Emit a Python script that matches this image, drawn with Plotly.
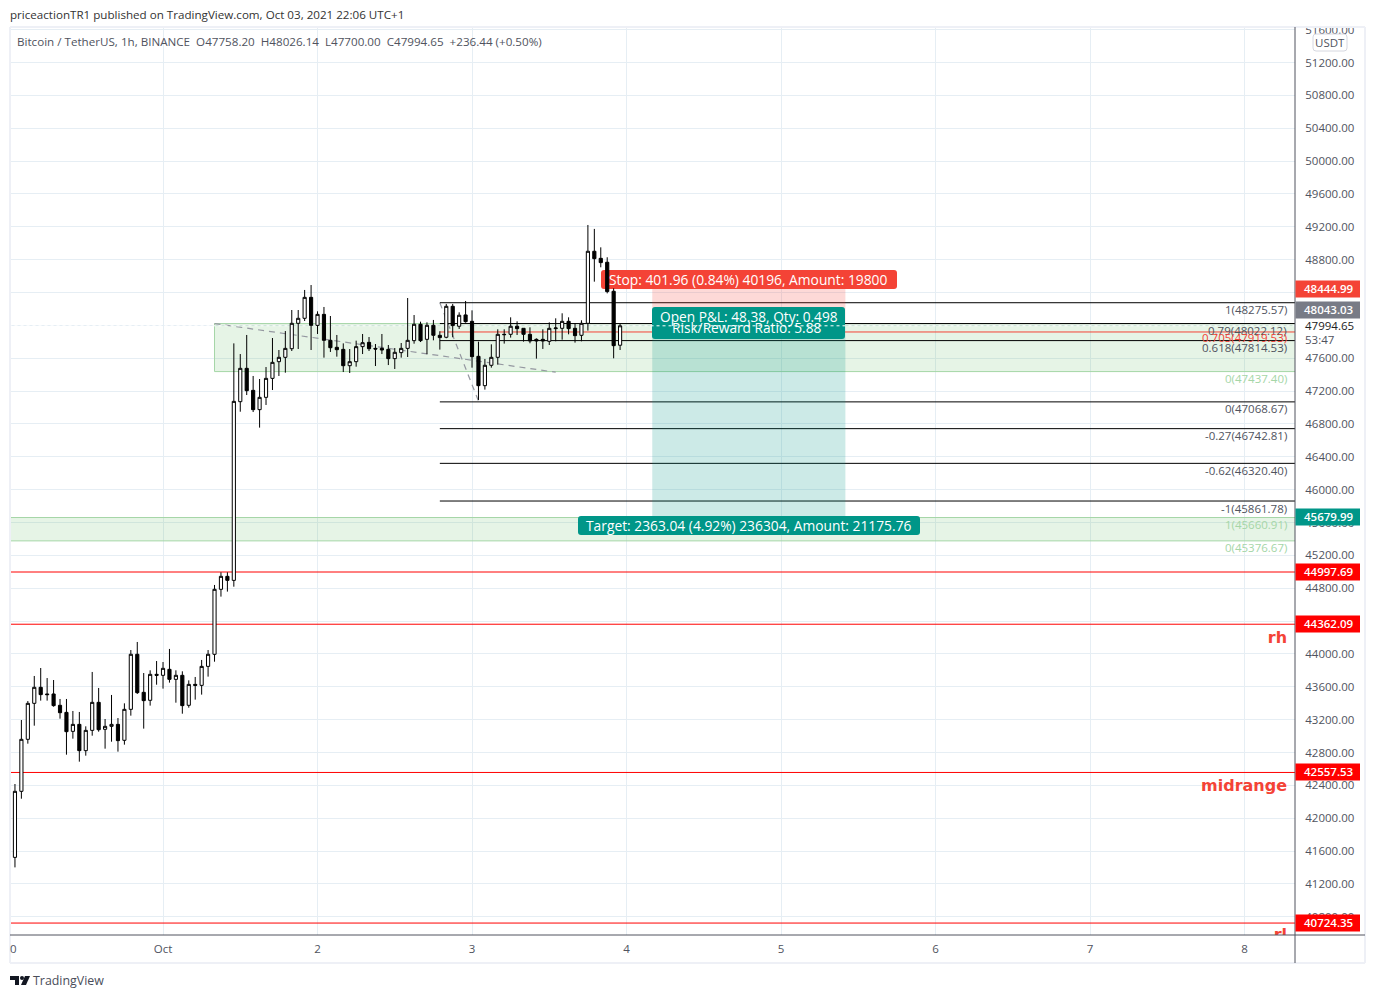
import plotly.graph_objects as go

# hours counted from Oct 1 00:00 (UTC+1)
hours = list(range(-24, 72))
opens = [41350, 41524, 42328, 42961, 43399, 43594, 43513, 43513, 43375, 43289, 43058, 43143,
         42823, 43070, 43411, 43083, 43119, 43143, 42949, 43326, 43996, 43533, 43436, 43752,
         43740, 43813, 43691, 43740, 43375, 43630, 43618, 43849, 43996, 44787, 44945, 44896,
         47071, 47477, 47209, 46974, 47124, 47355, 47558, 47611, 47716, 48025, 48086, 48341,
         48000, 48134, 47818, 47733, 47708, 47509, 47558, 47741, 47793, 47720, 47720, 47708,
         47595, 47668, 47720, 47814, 48013, 47830, 48001, 47879, 47855, 48232, 47989, 48127,
         48049, 47623, 47266, 47514, 47611, 47891, 47891, 47989, 47964, 47891, 47830, 47830,
         47806, 47960, 47964, 48049, 47964, 47879, 48025, 48902, 48816, 48768, 48415, 47758.2]
highs = [41540, 42417, 43196, 43427, 43732, 43829, 43707, 43683, 43452, 43452, 43306, 43294,
         43119, 43781, 43586, 43208, 43501, 43220, 43399, 44048, 44146, 43768, 43801, 43914,
         43902, 44061, 43801, 43789, 43679, 43720, 43927, 44048, 44840, 44994, 44994, 47781,
         47651, 47883, 47384, 47347, 47493, 47846, 47700, 47931, 48187, 48187, 48431, 48491,
         48171, 48224, 48114, 47883, 47781, 47712, 47814, 47895, 47858, 47773, 47895, 47761,
         47724, 47785, 48333, 48126, 48045, 48037, 48066, 47928, 48261, 48261, 48159, 48297,
         48183, 47802, 47591, 47769, 47952, 47952, 48098, 48049, 47964, 47976, 47842, 47952,
         48037, 48086, 48147, 48098, 48025, 48062, 49222, 49174, 48950, 48829, 48451, 48026.14]
lows = [41350, 41402, 42238, 42908, 43127, 43432, 43432, 43358, 43212, 42774, 42969, 42689,
        42762, 43005, 43054, 42847, 42932, 42811, 42896, 43249, 43513, 43091, 43371, 43626,
        43578, 43651, 43407, 43273, 43346, 43444, 43505, 43724, 43906, 44698, 44759, 44819,
        46949, 47152, 46945, 46755, 47031, 47213, 47384, 47424, 47688, 47712, 48053, 47700,
        47895, 47607, 47676, 47619, 47432, 47420, 47497, 47651, 47688, 47505, 47651, 47517,
        47469, 47607, 47615, 47777, 47797, 47648, 47818, 47705, 47843, 47855, 47956, 48033,
        47485, 47092, 47218, 47485, 47522, 47778, 47851, 47883, 47802, 47782, 47595, 47713,
        47761, 47806, 47826, 47891, 47790, 47806, 47936, 48532, 48707, 48390, 47599, 47700]
closes = [41524, 42328, 42961, 43399, 43594, 43505, 43505, 43371, 43285, 43054, 43143, 42823,
          43070, 43411, 43078, 43119, 43143, 42945, 43326, 43996, 43529, 43432, 43752, 43740,
          43825, 43691, 43740, 43371, 43630, 43618, 43849, 43996, 44787, 44945, 44896, 47075,
          47477, 47205, 46974, 47124, 47355, 47550, 47611, 47720, 48025, 48086, 48341, 48000,
          48134, 47818, 47728, 47704, 47509, 47558, 47741, 47789, 47716, 47712, 47700, 47595,
          47672, 47720, 47818, 48013, 47814, 48001, 47879, 47851, 48232, 47997, 48123, 48045,
          47619, 47266, 47514, 47611, 47891, 47887, 47989, 47960, 47891, 47810, 47810, 47810,
          47964, 47968, 48049, 47960, 47875, 48025, 48902, 48812, 48764, 48411, 47753, 47994.65]

price_ticks = [40800, 41200, 41600, 42000, 42400, 42800, 43200, 43600, 44000, 44400, 44800,
               45200, 45600, 46000, 46400, 46800, 47200, 47600, 48000, 48400, 48800, 49200,
               49600, 50000, 50400, 50800, 51200, 51600]
day_ticks = [0, 24, 48, 72, 96, 120, 144, 168]
day_labels = ["Oct", "2", "3", "4", "5", "6", "7", "8"]

red_levels = [44997.69, 44362.09, 42557.53, 40724.35]
fib_prices = [48275.57, 48022.12, 47814.53, 47068.67, 46742.81, 46320.40, 45861.78]
fib_texts = ["1(48275.57)", "0.79(48022.12)", "0.618(47814.53)", "0(47068.67)",
             "-0.27(46742.81)", "-0.62(46320.40)", "-1(45861.78)"]
fib_red_price = 47919.53
last_price = 47994.65
stop_price = 48444.99
entry_price = 48043.03
target_price = 45679.99
zone_upper = [48022.12, 47437.40]
zone_lower = [45660.91, 45376.67]
note_texts = ["rh", "midrange", "rl"]
note_prices = [44183, 42381, 40567]

GRID = "#e6eef4"
FRAME = "#eef0f6"
AXIS = "#50535e"
TEXT = "#50535e"
RED = "#f44336"
GREEN = "#a5d6a7"
TEAL = "#009688"
FONT = "Open Sans"

L, R, T, B = 10, 1295, 27, 935
W, H = 1375, 998
X_RANGE = [-23.77, 175.84]
Y_RANGE = [40579, 51632]


# picture pixels to paper fractions, for the page furniture only
def px(v):
    return (v - L) / (R - L)


def py(v):
    return (B - v) / (B - T)


# picture pixels to axis values, so a label box can sit between grid and candles
def dx(v):
    return X_RANGE[0] + px(v) * (X_RANGE[1] - X_RANGE[0])


def dy(v):
    return Y_RANGE[0] + py(v) * (Y_RANGE[1] - Y_RANGE[0])


def round_box(x0, y0, x1, y1, r, color):
    path = (f"M {dx(x0 + r)} {dy(y0)} L {dx(x1 - r)} {dy(y0)} Q {dx(x1)} {dy(y0)} {dx(x1)} {dy(y0 + r)} "
            f"L {dx(x1)} {dy(y1 - r)} Q {dx(x1)} {dy(y1)} {dx(x1 - r)} {dy(y1)} "
            f"L {dx(x0 + r)} {dy(y1)} Q {dx(x0)} {dy(y1)} {dx(x0)} {dy(y1 - r)} "
            f"L {dx(x0)} {dy(y0 + r)} Q {dx(x0)} {dy(y0)} {dx(x0 + r)} {dy(y0)} Z")
    return dict(type="path", path=path, xref="x", yref="y", fillcolor=color, line_width=0, layer="between")


def paper_round_box(x0, y0, x1, y1, r, color, edge):
    path = (f"M {px(x0 + r)} {py(y0)} L {px(x1 - r)} {py(y0)} Q {px(x1)} {py(y0)} {px(x1)} {py(y0 + r)} "
            f"L {px(x1)} {py(y1 - r)} Q {px(x1)} {py(y1)} {px(x1 - r)} {py(y1)} "
            f"L {px(x0 + r)} {py(y1)} Q {px(x0)} {py(y1)} {px(x0)} {py(y1 - r)} "
            f"L {px(x0)} {py(y0 + r)} Q {px(x0)} {py(y0)} {px(x0 + r)} {py(y0)} Z")
    return dict(type="path", path=path, xref="paper", yref="paper", fillcolor=color,
                line=dict(color=edge, width=1), layer="above")


def paper_line(x0, y0, x1, y1, color, width=1):
    return dict(type="line", xref="paper", yref="paper", x0=px(x0), y0=py(y0), x1=px(x1), y1=py(y1),
                line=dict(color=color, width=width), layer="above")


def paper_rect(x0, y0, x1, y1, color):
    return dict(type="rect", xref="paper", yref="paper", x0=px(x0), y0=py(y0), x1=px(x1), y1=py(y1),
                fillcolor=color, line_width=0, layer="above")


def level_line(price, x0, color, dash="solid"):
    return dict(type="line", xref="x", yref="y", x0=x0, x1=176, y0=price, y1=price,
                line=dict(color=color, width=1, dash=dash), layer="between")


def text_at(x, y, text, size=11.5, color=TEXT, anchor="left", weight=400):
    # annotations carry a 2px pad around the text
    if anchor == "left":
        x -= 2
    elif anchor == "right":
        x += 2
    return dict(xref="paper", yref="paper", x=px(x), y=py(y), text=text, showarrow=False,
                xanchor=anchor, yanchor="middle", font=dict(family=FONT, size=size, color=color, weight=weight))


def level_text(price, text, color, shift=-7):
    return dict(xref="paper", yref="y", x=px(1289), y=price, yshift=shift, text=text, showarrow=False,
                xanchor="right", yanchor="middle", font=dict(family=FONT, size=11.5, color=color))


fig = go.Figure()
fig.add_trace(go.Candlestick(
    x=hours, open=opens, high=highs, low=lows, close=closes,
    increasing=dict(fillcolor="#ffffff", line=dict(color="#000000", width=1)),
    decreasing=dict(fillcolor="#000000", line=dict(color="#000000", width=1)),
    whiskerwidth=0, showlegend=False,
))
fig.add_trace(go.Scatter(
    x=[174.6, 174.6, 174.6], y=note_prices, mode="text", text=note_texts,
    textposition="middle left", showlegend=False,
    textfont=dict(family="DejaVu Sans", size=16, color=RED, weight="bold"),
))

shapes = []
# support zones
shapes.append(dict(type="rect", xref="x", yref="y", x0=8, x1=176, y0=zone_upper[1], y1=zone_upper[0],
                   fillcolor="rgba(76,175,80,0.14)", line=dict(color=GREEN, width=1), layer="between"))
shapes.append(dict(type="rect", xref="x", yref="y", x0=-24, x1=176, y0=zone_lower[1], y1=zone_lower[0],
                   fillcolor="rgba(76,175,80,0.14)", line=dict(color=GREEN, width=1), layer="between"))
# dashed fib trend lines
shapes.append(dict(type="line", xref="x", yref="y", x0=8, x1=61, y0=48022, y1=47430,
                   line=dict(color="#9598a1", width=1.2, dash="6px,5px"), layer="between"))
shapes.append(dict(type="line", xref="x", yref="y", x0=43, x1=49, y0=48275, y1=47080,
                   line=dict(color="#9598a1", width=1.2, dash="6px,5px"), layer="between"))
for p in red_levels:
    shapes.append(level_line(p, -24, "#ff0000"))
for p in fib_prices:
    shapes.append(level_line(p, 43, "#000000"))
shapes.append(level_line(fib_red_price, 43, RED))
# long position tool
shapes.append(dict(type="rect", xref="x", yref="y", x0=76, x1=106, y0=entry_price, y1=stop_price,
                   fillcolor="rgba(244,67,54,0.2)", line_width=0, layer="between"))
shapes.append(dict(type="rect", xref="x", yref="y", x0=76, x1=106, y0=target_price, y1=entry_price,
                   fillcolor="rgba(0,150,136,0.2)", line_width=0, layer="between"))
shapes.append(round_box(601, 270, 897, 289, 3, RED))
shapes.append(round_box(652, 307, 845, 339, 3, TEAL))
shapes.append(round_box(578, 516, 920, 535, 3, TEAL))
shapes.append(dict(type="line", xref="x", yref="y", x0=-24, x1=176, y0=last_price, y1=last_price,
                   line=dict(color="#ffffff", width=1, dash="dot"), layer="between"))

# page frame and axis furniture
shapes.append(paper_rect(0, 0, 1375, 27, "#ffffff"))
shapes.append(paper_rect(1295.5, 319, 1364, 347, "#ffffff"))
shapes.append(paper_line(10, 27, 1365, 27, FRAME, 2))
shapes.append(paper_line(10, 963, 1365, 963, FRAME, 2))
shapes.append(paper_line(10, 27, 10, 963, FRAME, 2))
shapes.append(paper_line(1365, 27, 1365, 963, FRAME, 2))
shapes.append(paper_line(10, 935, 1365, 935, AXIS))
shapes.append(paper_line(1295, 27, 1295, 963, AXIS))

# price labels on the axis
axis_tags = [(stop_price, 289, RED), (entry_price, 310, "#787b86"), (target_price, 517, TEAL)]
for p in red_levels:
    axis_tags.append((p, round(62.5 + (51200 - p) * 0.08215), "#ff0000"))
annotations = []
for p, yc, color in axis_tags:
    shapes.append(paper_rect(1295.5, yc - 8.5, 1360, yc + 8.5, color))
    annotations.append(text_at(1329, yc - 0.5, f"{p:.2f}", 11.5, "#ffffff", "center", weight=600))

# USDT tag
shapes.append(paper_round_box(1313, 34, 1347, 51, 3, "#ffffff", "#d6d8e0"))
annotations.append(text_at(1330, 42.5, "USDT", 11.5, TEXT, "center"))

# TradingView mark
shapes.append(dict(type="path", xref="paper", yref="paper", fillcolor="#131722", line_width=0, layer="above",
                   path=(f"M {px(10)} {py(976)} L {px(19)} {py(976)} L {px(19)} {py(985)} L {px(15)} {py(985)} "
                         f"L {px(15)} {py(980)} L {px(10)} {py(980)} Z")))
shapes.append(dict(type="path", xref="paper", yref="paper", fillcolor="#131722", line_width=0, layer="above",
                   path=(f"M {px(25)} {py(976)} L {px(30)} {py(976)} L {px(26)} {py(985)} L {px(21)} {py(985)} Z")))
shapes.append(dict(type="circle", xref="paper", yref="paper", fillcolor="#131722", line_width=0, layer="above",
                   x0=px(20), x1=px(24), y0=py(976), y1=py(980)))

annotations.append(text_at(10, 15, "priceactionTR1 published on TradingView.com, Oct 03, 2021 22:06 UTC+1", 11.62, "#333333"))
annotations.append(text_at(17, 42, "Bitcoin / TetherUS, 1h, BINANCE  O47758.20  H48026.14  L47700.00  C47994.65  +236.44 (+0.50%)", 11.63, TEXT))
annotations.append(text_at(33, 980.5, "TradingView", 12.4, "#4a4e5a"))
annotations.append(text_at(10, 948, "0", 11.5, TEXT))
annotations.append(text_at(1305, 326, "47994.65", 11.5, "#222222"))
annotations.append(text_at(1305, 340, "53:47", 11.5, TEXT))
annotations.append(text_at(749, 279, "Stop: 401.96 (0.84%) 40196, Amount: 19800", 13.8, "#ffffff", "center", weight=500))
annotations.append(text_at(749, 316, "Open P&amp;L: 48.38, Qty: 0.498", 13.7, "#ffffff", "center", weight=500))
annotations.append(text_at(747, 328, "Risk/Reward Ratio: 5.88", 13.7, "#ffffff", "center", weight=500))
annotations.append(text_at(749, 525, "Target: 2363.04 (4.92%) 236304, Amount: 21175.76", 13.8, "#ffffff", "center", weight=500))

for p, t in zip(fib_prices, fib_texts):
    annotations.append(level_text(p, t, TEXT))
annotations.append(level_text(fib_red_price, "0.705(47919.53)", RED, -6))
annotations.append(level_text(zone_upper[1], "0(47437.40)", GREEN))
annotations.append(level_text(zone_lower[0], "1(45660.91)", GREEN))
annotations.append(level_text(zone_lower[1], "0(45376.67)", GREEN))

fig.update_layout(
    width=W, height=H,
    margin=dict(l=L, r=W - R, t=T, b=H - B),
    paper_bgcolor="#ffffff", plot_bgcolor="#ffffff",
    showlegend=False,
    font=dict(family=FONT, size=11.5, color=TEXT),
    shapes=shapes, annotations=annotations,
    xaxis=dict(range=X_RANGE, tickvals=day_ticks, ticktext=day_labels, showgrid=True,
               gridcolor=GRID, gridwidth=1, zeroline=False, rangeslider_visible=False,
               ticks="outside", ticklen=3, tickcolor="rgba(0,0,0,0)", showline=False,
               tickfont=dict(family=FONT, size=11.5, color=TEXT)),
    yaxis=dict(range=Y_RANGE, side="right", tickvals=price_ticks, tickformat=".2f", showgrid=True,
               gridcolor=GRID, gridwidth=1, zeroline=False, ticks="outside", ticklen=7,
               tickcolor="rgba(0,0,0,0)", showline=False,
               tickfont=dict(family=FONT, size=11.5, color=TEXT)),
)

fig.write_html("out.html", config=dict(displayModeBar=False),
               post_script="document.body.style.margin='0';document.body.style.overflow='hidden';")
